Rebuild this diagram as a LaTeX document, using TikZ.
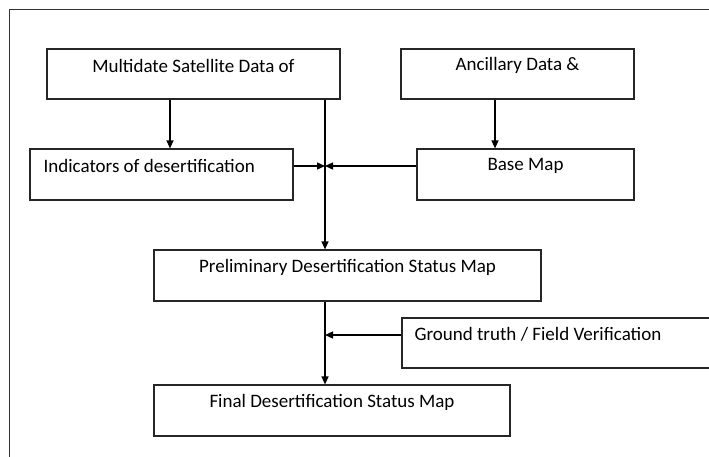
\documentclass[tikz,border=0pt]{standalone}
\usepackage{fontspec}
\setmainfont{Carlito}
\usetikzlibrary{arrows.meta,calc}
\begin{document}
\begin{tikzpicture}[x=1pt,y=-1pt,
  box/.style={draw=black!85, line width=1.2pt, inner sep=0pt},
  lbl/.style={inner sep=0pt, font=\fontsize{19}{22}\selectfont},
  arr/.style={draw=black, line width=1.3pt, -{Triangle[length=8pt,width=7pt]}},
  frame/.style={draw=black!80, line width=1pt}]
\useasboundingbox (0,0) rectangle (709,456);
% outer frame (clipped at right and bottom)
\coordinate (f0) at (9,470);
\coordinate (f1) at (9,9);
\coordinate (f2) at (730,9);
\draw[frame] (f0) -- (f1) -- (f2);
% boxes
\node[box, minimum width=293pt, minimum height=50pt] (ms) at (193.5,74) {};
\node[box, minimum width=233pt, minimum height=50pt] (an) at (517.5,74) {};
\node[box, minimum width=263pt, minimum height=51pt] (ind) at (161.5,174.5) {};
\node[box, minimum width=217pt, minimum height=51pt] (base) at (525.5,174.5) {};
\node[box, minimum width=387pt, minimum height=51pt] (pre) at (347.5,275.5) {};
\node[box, minimum width=348pt, minimum height=50pt] (gt) at (576,343) {};
\node[box, minimum width=356pt, minimum height=51pt] (fin) at (332,410.5) {};
% labels
\node[lbl] (ms-t) at ($(ms.north)+(0,17.5)$) {Multidate Satellite Data of};
\node[lbl] (an-t) at ($(an.north)+(0,17.5)$) {Ancillary Data \&};
\node[lbl, anchor=west] (ind-t) at ($(ind.north west)+(14,18)$) {Indicators of desertification};
\node[lbl] (base-t) at ($(base.north)+(0,18)$) {Base Map};
\node[lbl] (pre-t) at ($(pre.north)+(0,18)$) {Preliminary Desertification Status Map};
\node[lbl, anchor=west] (gt-t) at ($(gt.north west)+(13,17)$) {Ground truth / Field Verification};
\node[lbl] (fin-t) at ($(fin.north)+(0,18)$) {Final Desertification Status Map};
% guide coordinates
\coordinate (xa) at (170,0);
\coordinate (xb) at (495,0);
\coordinate (tr) at (325,0);
\coordinate (hy) at (0,166);
\coordinate (gy) at (0,335);
% connectors
\draw[arr] (ms.south -| xa) -- (ind.north -| xa);
\draw[arr] (an.south -| xb) -- (base.north -| xb);
\draw[arr] (ms.south -| tr) -- (pre.north -| tr);
\draw[arr] (ind.east |- hy) -- (tr |- hy);
\draw[arr] (base.west |- hy) -- (tr |- hy);
\draw[arr] (pre.south -| tr) -- (fin.north -| tr);
\draw[arr] (gt.west |- gy) -- (tr |- gy);
\end{tikzpicture}
\end{document}
